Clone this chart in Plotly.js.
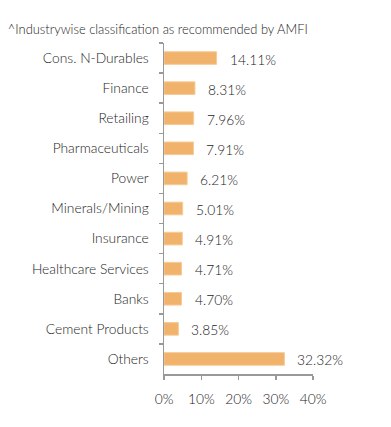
<!DOCTYPE html>
<html><head><meta charset="utf-8">
<script src="https://cdn.plot.ly/plotly-3.0.1.min.js"></script>
<style>html,body{margin:0;padding:0;background:#fff}#c{width:391px;height:427px}</style>
</head><body><div id="c"></div>
<script>
const categories = ["Cons. N-Durables","Finance","Retailing","Pharmaceuticals","Power","Minerals/Mining","Insurance","Healthcare Services","Banks","Cement Products","Others"];
const values = [14.11,8.31,7.96,7.91,6.21,5.01,4.91,4.71,4.70,3.85,32.32];
const labels = ["14.11%","8.31%","7.96%","7.91%","6.21%","5.01%","4.91%","4.71%","4.70%","3.85%","32.32%"];
const xTicks = [0,10,20,30,40];
const xTickText = ["0%","10%","20%","30%","40%"];

const fam = "Lato, 'Open Sans', sans-serif";
const tf = {family:fam, size:13.8, color:"#1c1c1c", weight:300};
const trace = {type:"bar", orientation:"h", x:values, y:categories, width:0.42,
  marker:{color:"#F1B26C", line:{color:"#F6CB96", width:1}}, hoverinfo:"none"};
const annotations = values.map((v,i)=>({x:v, y:categories[i], xref:"x", yref:"y", text:labels[i],
  showarrow:false, xanchor:"left", xshift:11, yshift:-1, font:tf}));
const layout = {
  width:391, height:427, margin:{l:164, r:78, t:43, b:53},
  paper_bgcolor:"#fff", plot_bgcolor:"#fff", font:tf, showlegend:false, bargap:0.58,
  title:{text:"^Industrywise classification as recommended by AMFI", x:0.02, xanchor:"left", y:0.932, yanchor:"middle",
    font:{family:fam, size:12.9, color:"#1c1c1c", weight:300}},
  xaxis:{range:[0,40], tickvals:xTicks, ticktext:xTickText, showgrid:false, zeroline:false,
    showline:true, linecolor:"#999", linewidth:1.5, ticks:"outside", ticklen:4, tickcolor:"#999", tickwidth:1.5,
    ticklabelstandoff:8, tickfont:tf, fixedrange:true},
  yaxis:{type:"category", autorange:"reversed", showgrid:false, zeroline:false, showline:true, linecolor:"#999", linewidth:1.5,
    ticks:"outside", tickson:"boundaries", ticklen:4, tickcolor:"#999", tickwidth:1.5, ticklabelstandoff:11,
    tickfont:tf, fixedrange:true},
  annotations:annotations
};
Plotly.newPlot("c", [trace], layout, {staticPlot:true, displayModeBar:false});
</script></body></html>
